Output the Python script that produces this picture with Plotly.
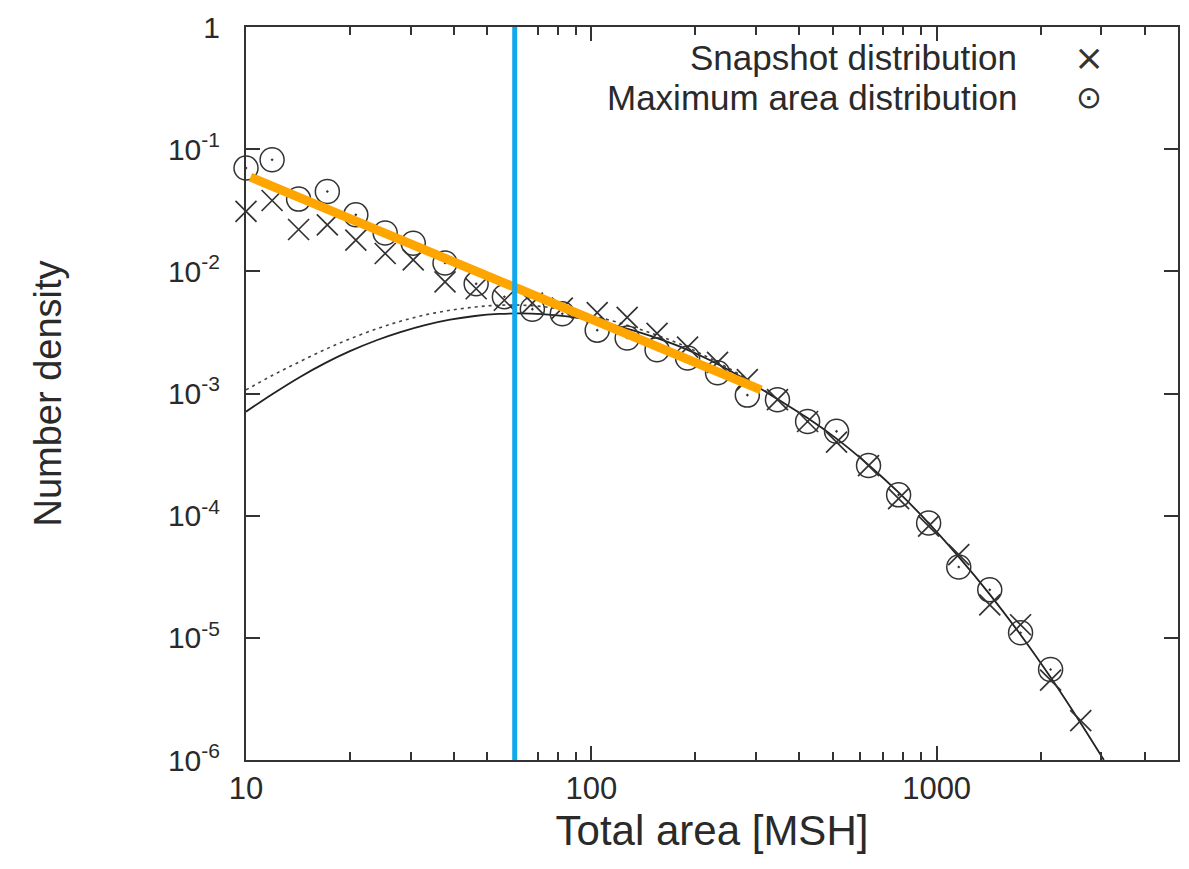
import plotly.graph_objects as go

# ---------------- data ----------------
area_bins = [10, 11.9, 14.2, 17.2, 20.8, 25.3, 30.5, 37.7, 46.4, 56.0, 67.5, 82.4,
             104, 127, 155, 190, 232, 283, 346, 423, 513, 635, 776, 948, 1159,
             1425, 1750, 2138, 2614]
snapshot = [0.031, 0.038, 0.022, 0.024, 0.018, 0.014, 0.0124, 0.0082, 0.0072,
            0.0058, 0.0055, 0.0050, 0.0046, 0.0042, 0.0031, 0.0024, 0.0018,
            0.0013, 0.00089, 0.00059, 0.00040, 0.000257, 0.000138, 8.2e-5,
            4.8e-5, 1.86e-5, 1.28e-5, 4.5e-6, 2.1e-6]
max_area = [0.070, 0.082, 0.039, 0.045, 0.029, 0.0206, 0.017, 0.0117, 0.0079,
            0.0062, 0.0049, 0.0045, 0.0033, 0.00285, 0.00228, 0.00195, 0.00148,
            0.00097, 0.00089, 0.00059, 0.00049, 0.000257, 0.000148, 8.7e-5,
            3.8e-5, 2.47e-5, 1.1e-5, 5.5e-6, None]

# solid fit curve
solid_x = [10, 12, 14.3, 17, 20, 24, 28, 33, 39, 46, 54, 62, 72, 85, 100, 120,
           150, 180, 220, 270, 346, 423, 513, 635, 776, 948, 1159, 1425, 1750,
           2138, 2614, 3050]
solid_y = [7.1e-4, 1.0e-3, 1.36e-3, 1.78e-3, 2.22e-3, 2.74e-3, 3.18e-3, 3.63e-3,
           4.02e-3, 4.31e-3, 4.48e-3, 4.52e-3, 4.46e-3, 4.27e-3, 3.98e-3, 3.55e-3,
           2.94e-3, 2.43e-3, 1.88e-3, 1.38e-3, 9.0e-4, 6.3e-4, 4.27e-4, 2.6e-4,
           1.55e-4, 8.7e-5, 4.6e-5, 2.27e-5, 1.06e-5, 4.75e-6, 2.0e-6, 1.0e-6]

# dotted fit curve
dotted_x = [10, 12, 14.3, 17, 20, 24, 28, 33, 39, 46, 52, 60, 72, 85, 100, 120,
            150, 180, 220, 270, 346]
dotted_y = [1.07e-3, 1.42e-3, 1.82e-3, 2.3e-3, 2.8e-3, 3.4e-3, 3.9e-3, 4.4e-3,
            4.8e-3, 5.1e-3, 5.25e-3, 5.3e-3, 5.15e-3, 4.8e-3, 4.35e-3, 3.8e-3,
            3.1e-3, 2.55e-3, 1.95e-3, 1.42e-3, 9.0e-4]

# orange power-law line
fit_x = [10.3, 310]
fit_y = [0.059, 0.00107]

# blue vertical threshold
threshold_x = 60

x_major = [10, 100, 1000]
x_major_text = ["10", "100", "1000"]
x_minor = [20, 30, 40, 50, 60, 70, 80, 90, 200, 300, 400, 500, 600, 700, 800,
           900, 2000, 3000, 4000, 5000]
y_major = [1, 1e-1, 1e-2, 1e-3, 1e-4, 1e-5, 1e-6]
y_major_text = ["1", "10<sup>-1</sup>", "10<sup>-2</sup>", "10<sup>-3</sup>",
                "10<sup>-4</sup>", "10<sup>-5</sup>", "10<sup>-6</sup>"]

legend_names = ["Snapshot distribution", "Maximum area distribution"]
legend_glyphs = ["×", "⊙"]

# ---------------- figure ----------------
FONT = "Liberation Sans, Arial, sans-serif"
INK = "#2a2a2a"
MARK = "#333333"

fig = go.Figure()

fig.add_trace(go.Scatter(x=dotted_x, y=dotted_y, mode="lines", line_shape="spline",
                         line=dict(color="#444", width=1.6, dash="3px,4px"),
                         showlegend=False, hoverinfo="skip"))
fig.add_trace(go.Scatter(x=solid_x, y=solid_y, mode="lines", line_shape="spline",
                         line=dict(color="#222", width=1.8),
                         showlegend=False, hoverinfo="skip"))
fig.add_trace(go.Scatter(x=area_bins, y=snapshot, mode="markers",
                         name=legend_names[0], cliponaxis=False,
                         marker=dict(symbol="x-thin-open", size=21, color=MARK,
                                     line=dict(color=MARK, width=1.7)),
                         showlegend=False))
fig.add_trace(go.Scatter(x=area_bins, y=max_area, mode="markers",
                         name=legend_names[1], cliponaxis=False,
                         marker=dict(symbol="circle-open-dot", size=24,
                                     color=MARK,
                                     line=dict(color=MARK, width=1.5)),
                         showlegend=False))
fig.add_trace(go.Scatter(x=fit_x, y=fit_y, mode="lines",
                         line=dict(color="#FFA500", width=9),
                         showlegend=False, hoverinfo="skip"))

fig.add_shape(type="line", xref="x", yref="paper", x0=threshold_x, x1=threshold_x,
              y0=0, y1=1, line=dict(color="#12A8EE", width=5))

# legend drawn as text (symbols on the right, gnuplot style)
legend_y = [0.958, 0.904]
glyph_sizes = [36, 31]
for name, glyph, ly, gs in zip(legend_names, legend_glyphs, legend_y, glyph_sizes):
    fig.add_annotation(xref="paper", yref="paper", x=0.829, y=ly,
                       xanchor="right", yanchor="middle", text=name,
                       showarrow=False, font=dict(size=35, color=INK, family=FONT))
    fig.add_annotation(xref="paper", yref="paper", x=0.905, y=ly,
                       xanchor="center", yanchor="middle", text=glyph,
                       showarrow=False, font=dict(size=gs, color=MARK,
                                                  family="DejaVu Sans"))

fig.update_layout(
    width=1189, height=869,
    margin=dict(l=246, r=9, t=27, b=109),
    paper_bgcolor="white", plot_bgcolor="white",
    font=dict(family=FONT, color=INK),
    showlegend=False,
)
fig.update_xaxes(type="log", range=[1, 3.69897], showgrid=False, zeroline=False,
                 showline=True, linecolor="#333", linewidth=2, mirror="ticks",
                 ticks="inside", ticklen=14, tickwidth=1.5, tickcolor="#333",
                 tickmode="array", tickvals=x_major, ticktext=x_major_text,
                 tickfont=dict(size=31, family=FONT, color=INK),
                 minor=dict(ticks="inside", ticklen=8, tickwidth=1.5,
                            tickcolor="#333", tickmode="array", tickvals=x_minor,
                            showgrid=False),
                 title=dict(text="Total area [MSH]",
                            font=dict(size=42, family=FONT, color=INK),
                            standoff=10))
fig.update_yaxes(type="log", range=[-6, 0], showgrid=False, zeroline=False,
                 showline=True, linecolor="#333", linewidth=2, mirror="ticks",
                 ticks="inside", ticklen=14, tickwidth=1.5, tickcolor="#333",
                 tickmode="array", tickvals=y_major, ticktext=y_major_text,
                 tickfont=dict(size=30, family=FONT, color=INK),
                 ticklabelstandoff=18,
                 title=dict(text="Number density",
                            font=dict(size=38, family=FONT, color=INK),
                            standoff=95))

fig.write_html("out.html")
